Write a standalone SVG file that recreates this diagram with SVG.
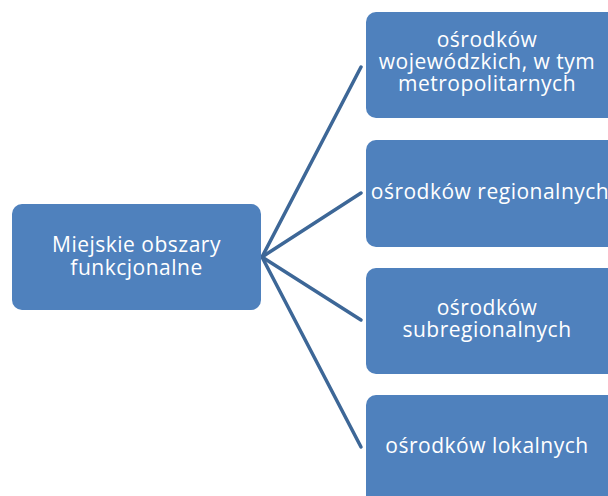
<svg xmlns="http://www.w3.org/2000/svg" width="608" height="496" viewBox="0 0 608 496">
<style>
.box{fill:#4f81bd;}
.t{fill:#ffffff;font-family:"Open Sans","Liberation Sans",sans-serif;font-size:21px;letter-spacing:0.5px;text-anchor:middle;}
.c{stroke:#3d6797;stroke-width:3.5;fill:none;stroke-linecap:round;}
</style>
<rect width="608" height="496" fill="#ffffff"/>
<g id="connectors">
<line class="c" x1="262" y1="257" x2="361" y2="67"/>
<line class="c" x1="262" y1="257" x2="361" y2="193"/>
<line class="c" x1="262" y1="257" x2="361" y2="320"/>
<line class="c" x1="262" y1="257" x2="361" y2="447"/>
</g>
<g id="root">
<rect class="box" x="12" y="204" width="249" height="106" rx="10"/>
<text class="t" x="136.5" y="252">Miejskie obszary</text>
<text class="t" x="136.5" y="275">funkcjonalne</text>
</g>
<g id="n1">
<rect class="box" x="366" y="12" width="252" height="106" rx="10"/>
<text class="t" x="487" y="47">ośrodków</text>
<text class="t" x="487" y="69">wojewódzkich, w tym</text>
<text class="t" x="487" y="91">metropolitarnych</text>
</g>
<g id="n2">
<rect class="box" x="366" y="140" width="252" height="107" rx="10"/>
<text class="t" x="490" y="199">ośrodków regionalnych</text>
</g>
<g id="n3">
<rect class="box" x="366" y="268" width="252" height="106" rx="10"/>
<text class="t" x="487" y="315">ośrodków</text>
<text class="t" x="487" y="337">subregionalnych</text>
</g>
<g id="n4">
<rect class="box" x="366" y="395" width="252" height="120" rx="10"/>
<text class="t" x="487" y="453">ośrodków lokalnych</text>
</g>
</svg>
